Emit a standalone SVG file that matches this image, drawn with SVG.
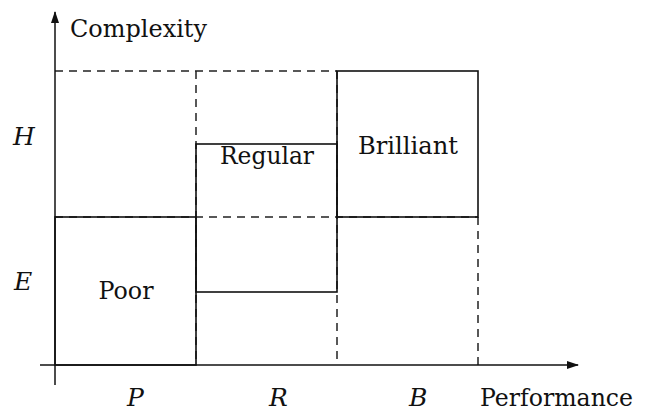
<svg xmlns="http://www.w3.org/2000/svg" width="649" height="411" viewBox="0 0 649 411">
<style>
text{font-family:'DejaVu Serif','Liberation Serif',serif;font-size:25px;fill:#111}
.it{font-style:italic}
.d{stroke:#222;stroke-width:1.5;stroke-dasharray:8,6;fill:none}
.b{stroke:#111;stroke-width:1.6;fill:none}
.ax{stroke:#111;stroke-width:1.5;fill:none}
</style>
<defs>
<marker id="ar" markerWidth="12" markerHeight="8" refX="11" refY="4" orient="auto" markerUnits="userSpaceOnUse">
<path d="M0,0 L12,4 L0,8 Z" fill="#111"/>
</marker>
</defs>
<g id="connectors">
<path class="d" d="M55,71 H337 M55,217 H478 M196,71 V365 M337,71 V365 M478,217 V365"/>
<line class="ax" x1="55" y1="385" x2="55" y2="12" marker-end="url(#ar)"/>
<line class="ax" x1="40" y1="365" x2="578" y2="365" marker-end="url(#ar)"/>
</g>
<g id="poor"><rect class="b" x="55" y="217" width="141" height="148"/><text x="126" y="299" text-anchor="middle" textLength="55" lengthAdjust="spacingAndGlyphs">Poor</text></g>
<g id="regular"><rect class="b" x="196" y="144" width="141" height="148"/><text x="267" y="164" text-anchor="middle" textLength="94" lengthAdjust="spacingAndGlyphs">Regular</text></g>
<g id="brilliant"><rect class="b" x="337" y="71" width="141" height="146"/><text x="408" y="154" text-anchor="middle" textLength="100" lengthAdjust="spacingAndGlyphs">Brilliant</text></g>
<g id="labels">
<text x="70" y="37" textLength="137" lengthAdjust="spacingAndGlyphs">Complexity</text>
<text class="it" x="13" y="145">H</text>
<text class="it" x="14" y="290">E</text>
<text class="it" x="127" y="406">P</text>
<text class="it" x="269" y="406">R</text>
<text class="it" x="409" y="406">B</text>
<text x="480" y="406" textLength="153" lengthAdjust="spacingAndGlyphs">Performance</text>
</g>
</svg>
